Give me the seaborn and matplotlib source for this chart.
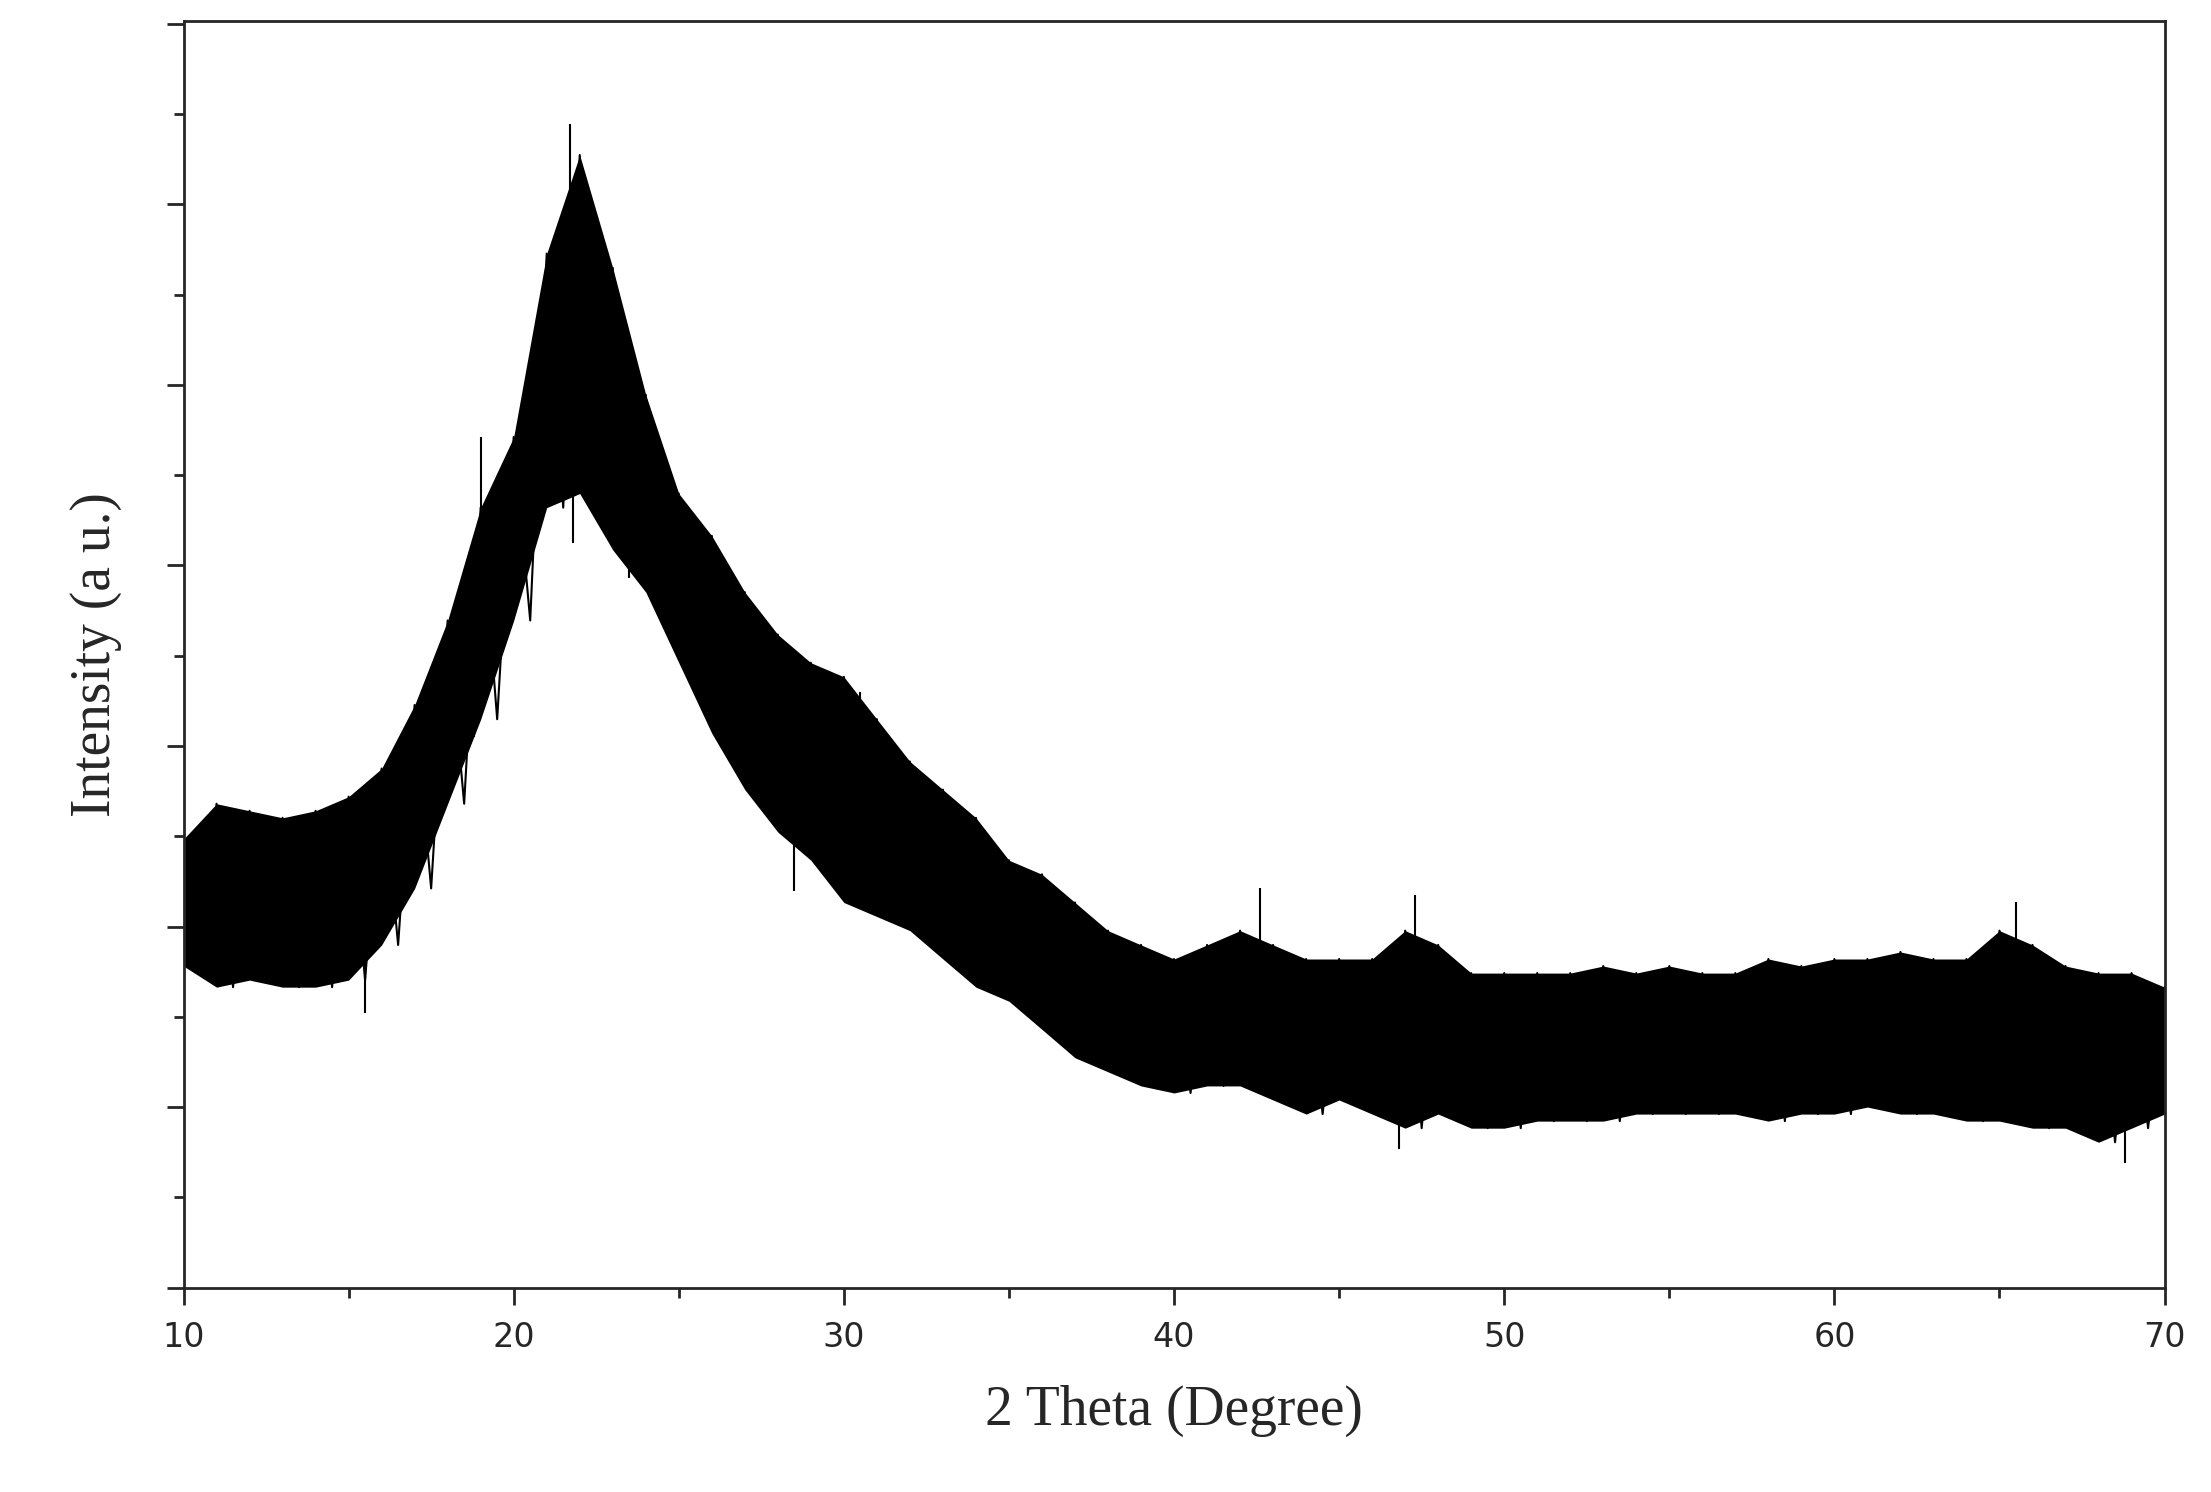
import numpy as np
import pandas as pd
import matplotlib
matplotlib.use("Agg")
import matplotlib.pyplot as plt
import seaborn as sns
from matplotlib.ticker import MultipleLocator, NullFormatter

two_theta = list(range(10, 71))
upper = [2484, 2680, 2641, 2602, 2641, 2719, 2875, 3227, 3695, 4320, 4711, 5727, 6273, 5648,
         4945, 4398, 4164, 3852, 3617, 3461, 3383, 3148, 2914, 2758, 2602, 2367, 2289, 2133,
         1977, 1898, 1820, 1898, 1977, 1898, 1820, 1820, 1820, 1977, 1898, 1742, 1742, 1742,
         1742, 1781, 1742, 1781, 1742, 1742, 1820, 1781, 1820, 1820, 1859, 1820, 1820, 1977,
         1898, 1781, 1742, 1742, 1664]
lower = [1781, 1664, 1703, 1664, 1664, 1703, 1898, 2211, 2680, 3148, 3695, 4320, 4398, 4086,
         3852, 3461, 3070, 2758, 2523, 2367, 2133, 2055, 1977, 1820, 1664, 1586, 1430, 1273,
         1195, 1117, 1078, 1117, 1117, 1039, 961, 1039, 961, 883, 961, 883, 883, 922, 922, 922,
         961, 961, 961, 961, 922, 961, 961, 1000, 961, 961, 922, 922, 883, 883, 805, 883, 961]

spike_x = [21.7, 19.0, 65.5, 47.3, 42.6, 36.0, 21.8, 23.5, 28.5, 46.8, 68.8, 15.5, 18.8, 30.5]
spike_y = [6445, 4711, 2133, 2172, 2211, 2250, 4125, 3930, 2195, 766, 688, 1523, 3050, 3300]

df = pd.DataFrame({"x": two_theta, "upper": upper, "lower": lower})
df["mid"] = (df["upper"] + df["lower"]) / 2

# zigzag trace alternating between envelope edges
zx, zy = [], []
for x, u, l in zip(df["x"], df["upper"], df["lower"]):
    zx += [x, x + 0.5]
    zy += [u, l]

sns.set_style("ticks")
plt.rcParams["font.family"] = ["DejaVu Sans"]

fig = plt.figure(figsize=(22.11, 14.92), dpi=100)
ax = fig.add_axes([0.083, 0.137, 0.896, 0.849])

ax.fill_between(df["x"], df["lower"], df["upper"], color="black", lw=0)
sns.lineplot(x=zx, y=zy, ax=ax, color="black", lw=1.5, sort=False)
mids = np.interp(spike_x, df["x"], df["mid"])
ax.vlines(spike_x, mids, spike_y, color="black", lw=1.5)

ax.set_xlim(10, 70)
ax.set_ylim(0, 7016)
ax.xaxis.set_major_locator(MultipleLocator(10))
ax.xaxis.set_minor_locator(MultipleLocator(5))
ax.yaxis.set_major_locator(MultipleLocator(1000))
ax.yaxis.set_minor_locator(MultipleLocator(500))
ax.yaxis.set_major_formatter(NullFormatter())
ax.tick_params(which="major", direction="out", length=12, width=2, labelsize=24, pad=12)
ax.tick_params(which="minor", direction="out", length=7, width=2)
for s in ax.spines.values():
    s.set_linewidth(2)
    s.set_visible(True)

ax.set_xlabel("2 Theta (Degree)", fontsize=40, family="Liberation Serif", labelpad=22)
ax.set_ylabel("Intensity (a u.)", fontsize=40, family="Liberation Serif", labelpad=20)

fig.savefig("out.png", dpi=100)
